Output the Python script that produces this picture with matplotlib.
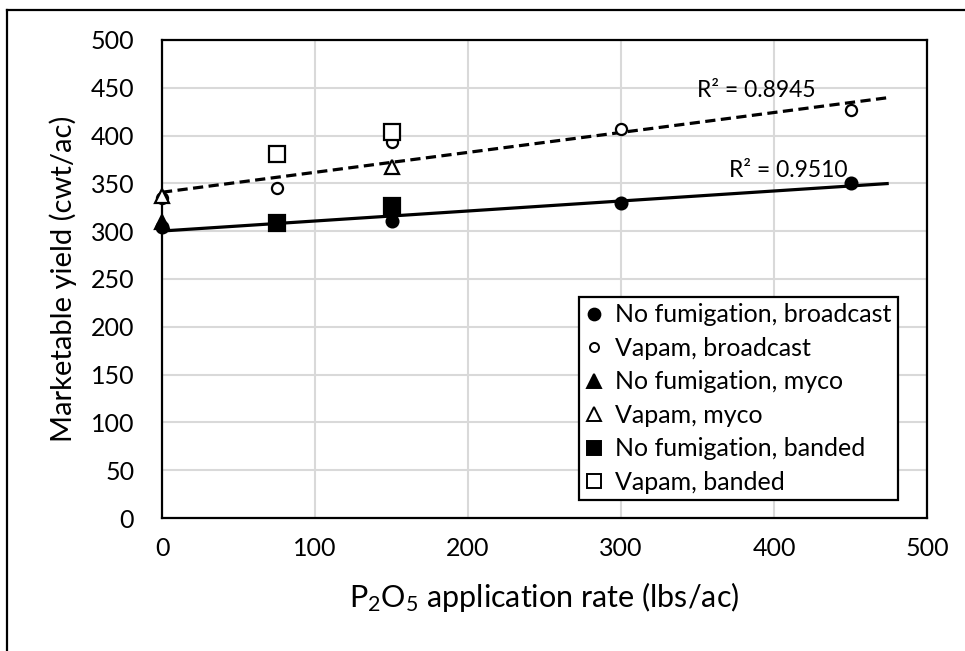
import matplotlib
matplotlib.use("Agg")
import matplotlib.pyplot as plt
from matplotlib.lines import Line2D
import numpy as np

plt.rcParams['font.family'] = ['Lato', 'DejaVu Sans']
plt.rcParams['mathtext.fontset'] = 'custom'
plt.rcParams['mathtext.rm'] = 'Lato'
plt.rcParams['mathtext.it'] = 'Lato:italic'

# Data
nf_broad_x = [0, 150, 300, 450]
nf_broad_y = [304, 311, 330, 350]
vp_broad_x = [0, 75, 150, 300, 450]
vp_broad_y = [335, 345, 393, 407, 427]
nf_myco_x = [0]
nf_myco_y = [310]
vp_myco_x = [0, 150]
vp_myco_y = [337, 367]
nf_band_x = [75, 150]
nf_band_y = [309, 326]
vp_band_x = [75, 150]
vp_band_y = [381, 404]

labels = ["No fumigation, broadcast", "Vapam, broadcast", "No fumigation, myco",
          "Vapam, myco", "No fumigation, banded", "Vapam, banded"]
r2_labels = ["R² = 0.9510", "R² = 0.8945"]

W, H = 965, 651
fig = plt.figure(figsize=(W / 100, H / 100), dpi=100)
ax = fig.add_axes([162 / W, 1 - 518 / H, (927 - 162) / W, (518 - 40) / H])

ax.set_xlim(0, 500)
ax.set_ylim(0, 500)
ax.set_xticks(np.arange(0, 501, 100))
ax.set_yticks(np.arange(0, 501, 50))
ax.grid(True, color='#d9d9d9', linewidth=1.5)
ax.set_axisbelow(True)
for s in ax.spines.values():
    s.set_color('black')
    s.set_linewidth(1.6)
ax.tick_params(length=0, labelsize=18)
ax.tick_params(axis='y', pad=20)
ax.tick_params(axis='x', pad=14)

# trendlines (linear fits of the broadcast series)
xt = np.array([0, 475])
p1 = np.polyfit(nf_broad_x, nf_broad_y, 1)
p2 = np.polyfit(vp_broad_x, vp_broad_y, 1)
ax.plot(xt, np.polyval(p1, xt), color='black', lw=2.3, zorder=2, solid_capstyle='butt')
ax.plot(xt, np.polyval(p2, xt), color='black', lw=2.3, ls=(0, (3.2, 1.7)), zorder=2)

mk = dict(color='black', linestyle='none', zorder=3, markeredgewidth=1.6, clip_on=False)
ax.plot(nf_broad_x, nf_broad_y, marker='o', ms=8.5, markerfacecolor='black', **mk)
ax.plot(vp_broad_x, vp_broad_y, marker='o', ms=8, markerfacecolor='white', **mk)
ax.plot(nf_myco_x, nf_myco_y, marker='^', ms=10, markerfacecolor='black', **mk)
ax.plot(vp_myco_x, vp_myco_y, marker='^', ms=10, markerfacecolor='white', **mk)
ax.plot(nf_band_x, nf_band_y, marker='s', ms=11, markerfacecolor='black', **mk)
ax.plot(vp_band_x, vp_band_y, marker='s', ms=11, markerfacecolor='white', **mk)

ax.text(448, 357, r2_labels[0], ha='right', va='baseline', fontsize=16.5)
ax.text(427, 440, r2_labels[1], ha='right', va='baseline', fontsize=16.5)

lk = dict(color='black', linestyle='none', markeredgewidth=1.4)
handles = [
    Line2D([], [], marker='o', ms=8.5, markerfacecolor='black', **lk),
    Line2D([], [], marker='o', ms=6.5, markerfacecolor='white', **lk),
    Line2D([], [], marker='^', ms=10, markerfacecolor='black', **lk),
    Line2D([], [], marker='^', ms=10, markerfacecolor='white', **lk),
    Line2D([], [], marker='s', ms=10.5, markerfacecolor='black', **lk),
    Line2D([], [], marker='s', ms=10.5, markerfacecolor='white', **lk),
]
leg = ax.legend(handles, labels, loc='upper left',
                bbox_to_anchor=((579 - 162) / 765, (518 - 297) / 478),
                fontsize=18, frameon=True, fancybox=False, edgecolor='black',
                framealpha=1, handlelength=0.7, handletextpad=0.5,
                labelspacing=0.42, borderpad=0.25, borderaxespad=0)
leg.get_frame().set_linewidth(1.6)

ax.set_ylabel("Marketable yield (cwt/ac)", fontsize=21, labelpad=10)
ax.set_xlabel(r"P$_2$O$_5$ application rate (lbs/ac)", fontsize=22, labelpad=14)

# outer frame (cropped at the right/bottom in the reference)
fig.add_artist(Line2D([7 / W, 7 / W], [0, 1 - 10 / H], transform=fig.transFigure,
                      color='black', lw=1.6))
fig.add_artist(Line2D([7 / W, 1], [1 - 10 / H, 1 - 10 / H], transform=fig.transFigure,
                      color='black', lw=1.6))

fig.savefig("out.png", dpi=100)
